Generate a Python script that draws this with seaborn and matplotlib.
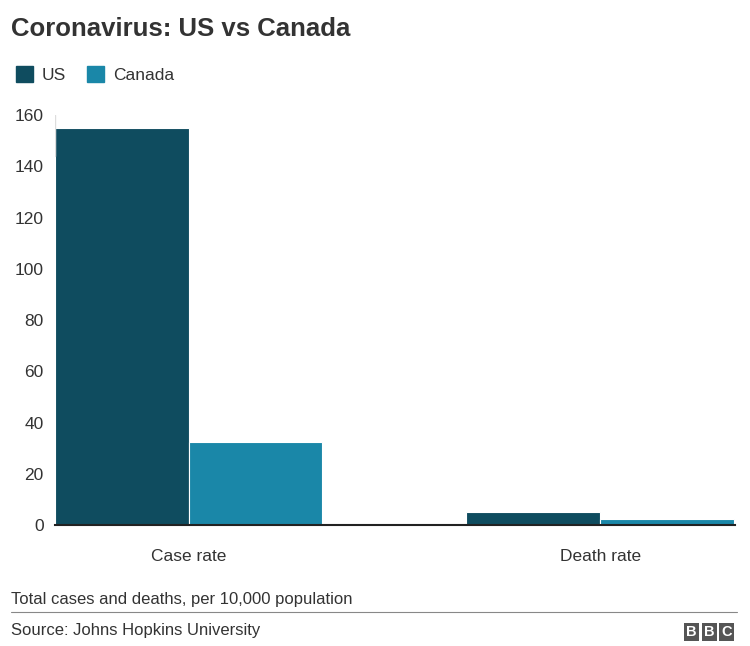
import numpy as np
import pandas as pd
import matplotlib.pyplot as plt
import seaborn as sns

# -------------------------------
# 数据
# -------------------------------
categories = ['Case rate', 'Death rate']
countries = ['US', 'Canada']
us_values = [155, 5.0]
canada_values = [32.5, 2.5]
yticks = [0, 20, 40, 60, 80, 100, 120, 140, 160]

colors = ['#0f4c5f', '#1a87a8']

df = pd.DataFrame({
    'category': categories * 2,
    'country': ['US'] * 2 + ['Canada'] * 2,
    'value': us_values + canada_values,
})

sns.set_style('white')
plt.rcParams['font.family'] = ['Liberation Sans', 'DejaVu Sans']

# -------------------------------
# 绘图
# -------------------------------
fig = plt.figure(figsize=(7.5, 6.46), dpi=100)
ax = fig.add_axes([0.073, 0.187, 0.907, 0.635])
sns.barplot(data=df, x='category', y='value', hue='country', palette=colors,
            width=0.65, saturation=1, edgecolor='white', linewidth=0.8, ax=ax)
ax.set_xlim(-0.326, 1.328)
ax.set_ylim(0, 160)
ax.set_yticks(yticks)
ax.tick_params(axis='both', labelsize=12.5, colors='#333333', length=0)
ax.tick_params(axis='x', pad=17)
ax.tick_params(axis='y', pad=8)
ax.set_xlabel('')
ax.set_ylabel('')
for s in ['top', 'right', 'left']:
    ax.spines[s].set_visible(False)
ax.spines['bottom'].set_color('#222222')
ax.spines['bottom'].set_linewidth(1.5)
ax.axvline(-0.326, ymin=0.9, ymax=1, color='#dddddd', lw=1)
ax.legend_.remove()

# 标题和图例
fig.text(0.015, 0.945, 'Coronavirus: US vs Canada', fontsize=18.5, fontweight='bold', color='#333333')
handles = [plt.Rectangle((0, 0), 1, 1, color=c) for c in colors]
fig.legend(handles, countries, loc='upper left', bbox_to_anchor=(0.0, 0.922), ncol=2, frameon=False,
           fontsize=12.5, handlelength=1.0, handleheight=1.0, columnspacing=1.2, handletextpad=0.5,
           labelcolor='#333333')

# 注释
fig.text(0.015, 0.065, 'Total cases and deaths, per 10,000 population', fontsize=12, color='#333333')
fig.add_artist(plt.Line2D([0.015, 0.983], [0.053, 0.053], color='#888888', lw=0.8))
fig.text(0.015, 0.017, 'Source: Johns Hopkins University', fontsize=12, color='#333333')
for i, ch in enumerate('BBC'):
    fig.text(0.915 + i * 0.0235, 0.015, ch, fontsize=10.5, fontweight='bold', color='white',
             bbox=dict(boxstyle='square,pad=0.15', fc='#555555', ec='none'))

plt.savefig('out.png')
